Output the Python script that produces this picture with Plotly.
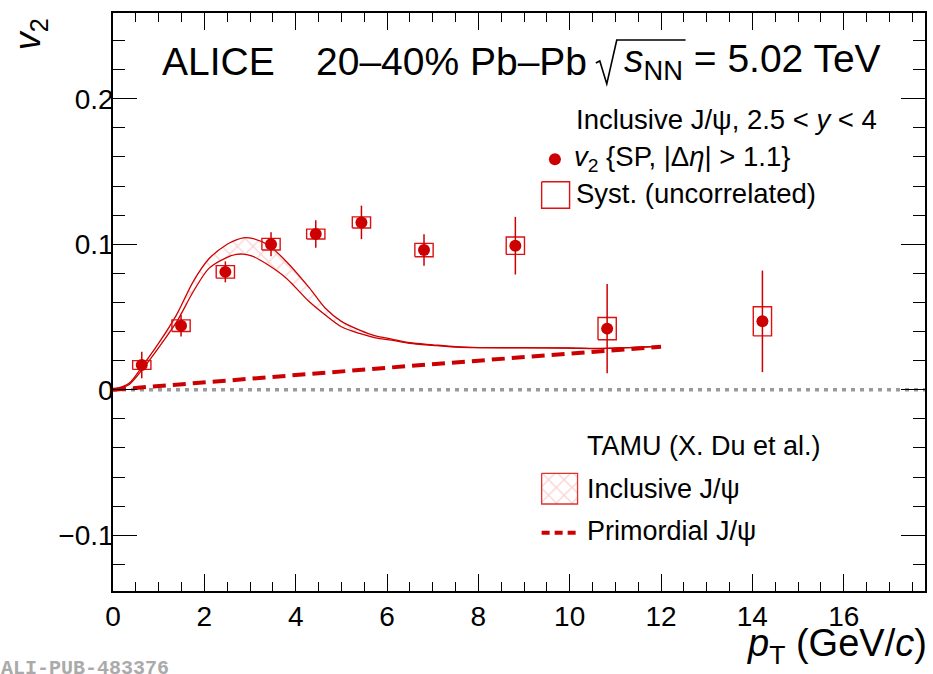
import plotly.graph_objects as go

# ---- measured inclusive J/psi v2 (SP, |delta eta| > 1.1), 20-40% Pb-Pb ----
pt = [0.63, 1.49, 2.46, 3.46, 4.44, 5.44, 6.81, 8.81, 10.82, 14.22]
v2 = [0.017, 0.044, 0.081, 0.100, 0.107, 0.115, 0.096, 0.099, 0.042, 0.047]
v2_stat = [0.0091, 0.0074, 0.0072, 0.0083, 0.0095, 0.0115, 0.0108, 0.0198, 0.0307, 0.0349]
v2_syst = [0.003, 0.004, 0.0043, 0.004, 0.0034, 0.0038, 0.0046, 0.006, 0.0076, 0.010]
syst_half_width = 0.2

# ---- TAMU transport model (X. Du et al.) ----
tamu_pt = [0, 0.35, 0.66, 1.0, 1.4, 1.75, 2.1, 2.5, 2.7, 2.85, 3.05, 3.4, 3.8, 4.3, 4.65,
           5.0, 5.4, 5.75, 6.1, 6.5, 7.0, 7.5, 8.0, 9.0, 10.0, 10.6, 11.3, 12.0]
tamu_low = [0, 0.0035, 0.0147, 0.029, 0.047, 0.067, 0.0834, 0.091, 0.093, 0.0932, 0.0918,
            0.0857, 0.0765, 0.0604, 0.0513, 0.0433, 0.0387, 0.0357, 0.0341, 0.0319, 0.0305,
            0.0293, 0.0289, 0.0288, 0.0286, 0.0283, 0.0289, 0.0299]
tamu_high = [0, 0.0044, 0.017, 0.032, 0.052, 0.074, 0.090, 0.100, 0.1030, 0.1044, 0.104,
             0.0995, 0.088, 0.070, 0.056, 0.047, 0.041, 0.037, 0.0348, 0.0323, 0.0309,
             0.0296, 0.0290, 0.0289, 0.0287, 0.0284, 0.0290, 0.0300]
prim_pt = [0, 2, 4, 6, 8, 10, 12]
prim_v2 = [0, 0.0052, 0.0102, 0.0151, 0.0200, 0.0248, 0.0296]

x_ticks = [0, 2, 4, 6, 8, 10, 12, 14, 16]
y_ticks = [-0.1, 0, 0.1, 0.2]

RED = "#cc0000"
HATCH = "#f3a6a6"
FONT = "Liberation Sans"

W, H = 933, 674
ML, MR, MT, MB = 113, 6, 13, 83
PW, PH = W - ML - MR, H - MT - MB


def fx(px):
    return (px - ML) / PW


def fy(py):
    return (H - MB - py) / PH


fig = go.Figure()

# dotted reference line at v2 = 0
fig.add_trace(go.Scatter(x=[0, 17.78], y=[0, 0], mode="lines",
                         line=dict(color="#9a9a9a", width=3.5, dash="4px,5px"),
                         hoverinfo="skip"))

# model band with cross hatching
fig.add_trace(go.Scatter(x=tamu_pt, y=tamu_low, mode="lines",
                         line=dict(color=RED, width=1.3, shape="spline", smoothing=0.8),
                         hoverinfo="skip"))
fig.add_trace(go.Scatter(x=tamu_pt, y=tamu_high, mode="lines",
                         line=dict(color=RED, width=1.3, shape="spline", smoothing=0.8),
                         fill="tonexty", fillcolor="rgba(0,0,0,0)",
                         fillpattern=dict(shape="x", fgcolor=HATCH,
                                          bgcolor="rgba(0,0,0,0)", size=11, solidity=0.22),
                         hoverinfo="skip"))

# primordial component
fig.add_trace(go.Scatter(x=prim_pt, y=prim_v2, mode="lines",
                         line=dict(color=RED, width=4, dash="13px,7px"),
                         hoverinfo="skip"))

# uncorrelated systematic boxes
bx, by = [], []
for x, y, s in zip(pt, v2, v2_syst):
    x0, x1 = x - syst_half_width, x + syst_half_width
    bx += [x0, x1, x1, x0, x0, None]
    by += [y - s, y - s, y + s, y + s, y - s, None]
fig.add_trace(go.Scatter(x=bx, y=by, mode="lines",
                         line=dict(color="#dd1111", width=1.4), hoverinfo="skip"))

# data points with statistical errors
fig.add_trace(go.Scatter(x=pt, y=v2, mode="markers",
                         marker=dict(color=RED, size=12, symbol="circle"),
                         error_y=dict(type="data", array=v2_stat, color=RED,
                                      thickness=1.5, width=0)))

# legend symbols, drawn on a pixel-scaled overlay axis
fig.add_trace(go.Scatter(x=[556], y=[159.3], mode="markers", xaxis="x2", yaxis="y2",
                         marker=dict(color=RED, size=12), hoverinfo="skip"))
fig.add_trace(go.Scatter(x=[542.7, 570.7, 570.7, 542.7, 542.7],
                         y=[181.7, 181.7, 208.3, 208.3, 181.7], mode="lines",
                         xaxis="x2", yaxis="y2",
                         line=dict(color="#dd1111", width=1.4), hoverinfo="skip"))
fig.add_trace(go.Scatter(x=[542.7, 578.7, 578.7, 542.7, 542.7],
                         y=[473.3, 473.3, 504, 504, 473.3], mode="lines",
                         xaxis="x2", yaxis="y2", fill="toself", fillcolor="rgba(0,0,0,0)",
                         fillpattern=dict(shape="x", fgcolor=HATCH,
                                          bgcolor="rgba(0,0,0,0)", size=11, solidity=0.22),
                         line=dict(color="#e03030", width=1.3), hoverinfo="skip"))
fig.add_trace(go.Scatter(x=[542.7, 578], y=[532.7, 532.7], mode="lines",
                         xaxis="x2", yaxis="y2",
                         line=dict(color=RED, width=4, dash="8px,5px"), hoverinfo="skip"))

annotations = []


def text_at(px, baseline, text, size, xanchor="left", color="black", family=FONT,
            angle=0):
    annotations.append(dict(
        xref="paper", yref="paper", x=fx(px), y=fy(baseline - 0.35 * size),
        xanchor=xanchor, yanchor="middle", text=text, showarrow=False,
        borderpad=0, borderwidth=0, textangle=angle,
        font=dict(family=family, size=size, color=color)))


# header
text_at(162.5, 75.5, "ALICE", 39)
text_at(317, 75.5, "20\u201340% Pb\u2013Pb", 39)
text_at(625, 75.5, "<i>s</i><sub>NN</sub> = 5.02 TeV", 39)

# legend texts
text_at(577, 129.3, "Inclusive J/\u03c8, 2.5 &lt; <i>y</i> &lt; 4", 27.5)
text_at(575, 168.5, "<i>v</i><sub>2</sub> {SP, |\u0394<i>\u03b7</i>| &gt; 1.1}", 27.5)
text_at(577, 203.5, "Syst. (uncorrelated)", 27.5)
text_at(588.3, 455, "TAMU (X. Du et al.)", 27)
text_at(588.3, 498, "Inclusive J/\u03c8", 27)
text_at(588.3, 540, "Primordial J/\u03c8", 27)

# axis titles
text_at(929, 659, "<i>p</i><sub>T</sub> (GeV/<i>c</i>)", 38, xanchor="right")
annotations.append(dict(xref="paper", yref="paper", x=fx(30), y=fy(34),
                        xanchor="center", yanchor="middle", textangle=-90,
                        text="<i>v</i><sub>2</sub>", showarrow=False,
                        font=dict(family=FONT, size=36, color="black")))

# publication id
annotations.append(dict(xref="paper", yref="paper", x=fx(0), y=fy(681),
                        xanchor="left", yanchor="bottom", text="<b>ALI-PUB-483376</b>",
                        showarrow=False, borderpad=0,
                        font=dict(family="Liberation Mono", size=20, color="#aaaaaa")))

# square-root sign in the header
shapes = [dict(type="path", xref="paper", yref="paper",
               path=(f"M {fx(597)},{fy(63)} L {fx(601)},{fy(61)} L {fx(608)},{fy(84)} "
                     f"L {fx(618)},{fy(40)} L {fx(687)},{fy(40)}"),
               line=dict(color="black", width=1.6))]

axis_common = dict(showgrid=False, zeroline=False, showline=True, linecolor="black",
                   linewidth=1.6, mirror="allticks", ticks="inside", tickcolor="black",
                   tickwidth=1.4,
                   tickfont=dict(family=FONT, size=28, color="black"))

fig.update_layout(
    width=W, height=H, margin=dict(l=ML, r=MR, t=MT, b=MB),
    paper_bgcolor="white", plot_bgcolor="white", showlegend=False,
    xaxis=dict(range=[0, 17.78], tickvals=x_ticks, ticklen=17,
               minor=dict(ticks="inside", dtick=0.5, ticklen=9, tickcolor="black",
                          tickwidth=1.2),
               **axis_common),
    yaxis=dict(range=[-0.1383, 0.2589], tickvals=y_ticks, ticklen=24,
               ticklabelstandoff=-8,
               minor=dict(ticks="inside", dtick=0.02, tick0=0, ticklen=12,
                          tickcolor="black", tickwidth=1.2),
               **axis_common),
    xaxis2=dict(overlaying="x", anchor="y2", range=[ML, W - MR], visible=False),
    yaxis2=dict(overlaying="y", anchor="x2", range=[H - MB, MT], visible=False),
    annotations=annotations, shapes=shapes,
)

fig.write_html("out.html")
